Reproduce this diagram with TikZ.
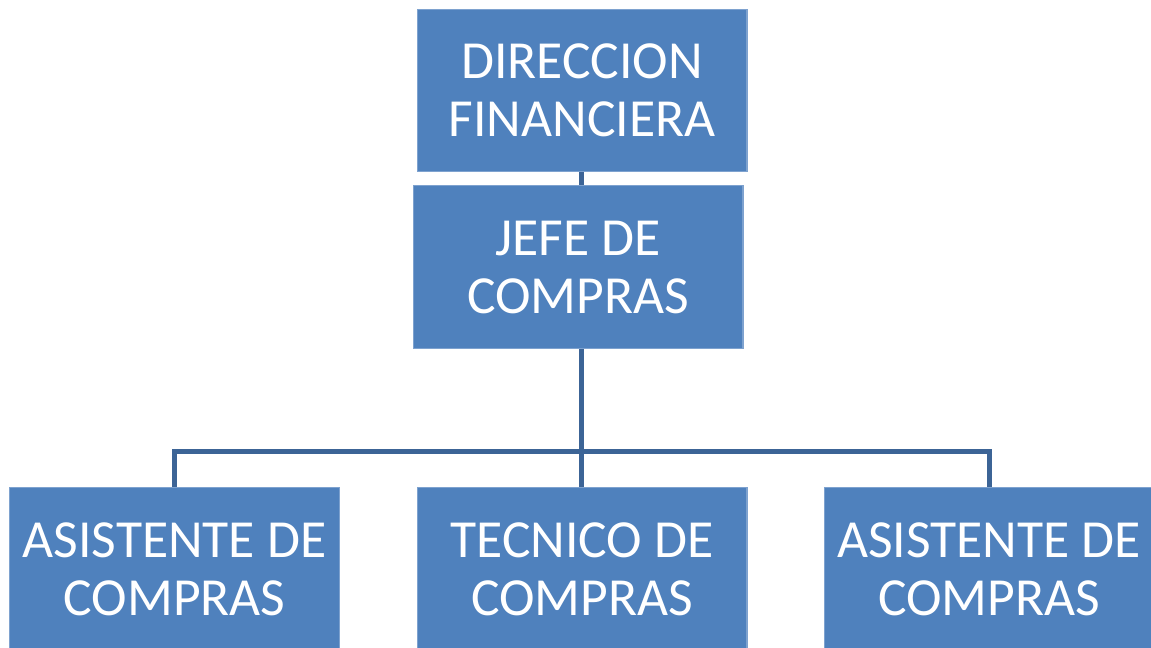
\documentclass[tikz,border=0pt]{standalone}
\usepackage{fontspec}
\setmainfont{Carlito}
\usepackage{xcolor}
\usetikzlibrary{positioning}
\definecolor{boxblue}{HTML}{4F81BD}
\definecolor{boxedge}{HTML}{7EA2CF}
\definecolor{linkblue}{HTML}{3C6496}

\begin{document}
\begin{tikzpicture}
	[   x=0.02cm, y=-0.02cm,
		unit/.style={draw=boxedge,line width=0.6pt,fill=boxblue,text=white,
			minimum width=6.6cm,minimum height=3.25cm,inner sep=0pt,
			align=center,font=\fontsize{30.5}{33}\selectfont},
	]
	\tikzset{link line/.style={draw=linkblue,line width=0.1cm}}
	\useasboundingbox (0,0) rectangle (1151,647);
	
	\node[unit] (dir) at (582,90.5) {DIRECCION\\FINANCIERA};
	\node[unit] (jefe) at (578,267) {JEFE DE\\COMPRAS};
	
	\node[unit] (asis-1) at (174.5,569) {ASISTENTE DE\\COMPRAS};
	\node[unit] (tec) at (582,569) {TECNICO DE\\COMPRAS};
	\node[unit] (asis-2) at (989,569) {ASISTENTE DE\\COMPRAS};
	
	\coordinate (bus) at (581,451);
	
	\path[link line] (dir.south -| bus) -- (jefe.north -| bus);
	\path[link line] (jefe.south -| bus) -- (bus);
	\path[link line] (bus) -| (asis-1.north);
	\path[link line] (bus) -| (asis-2.north);
	\path[link line] (bus) -- (tec.north -| bus);
\end{tikzpicture}
\end{document}
